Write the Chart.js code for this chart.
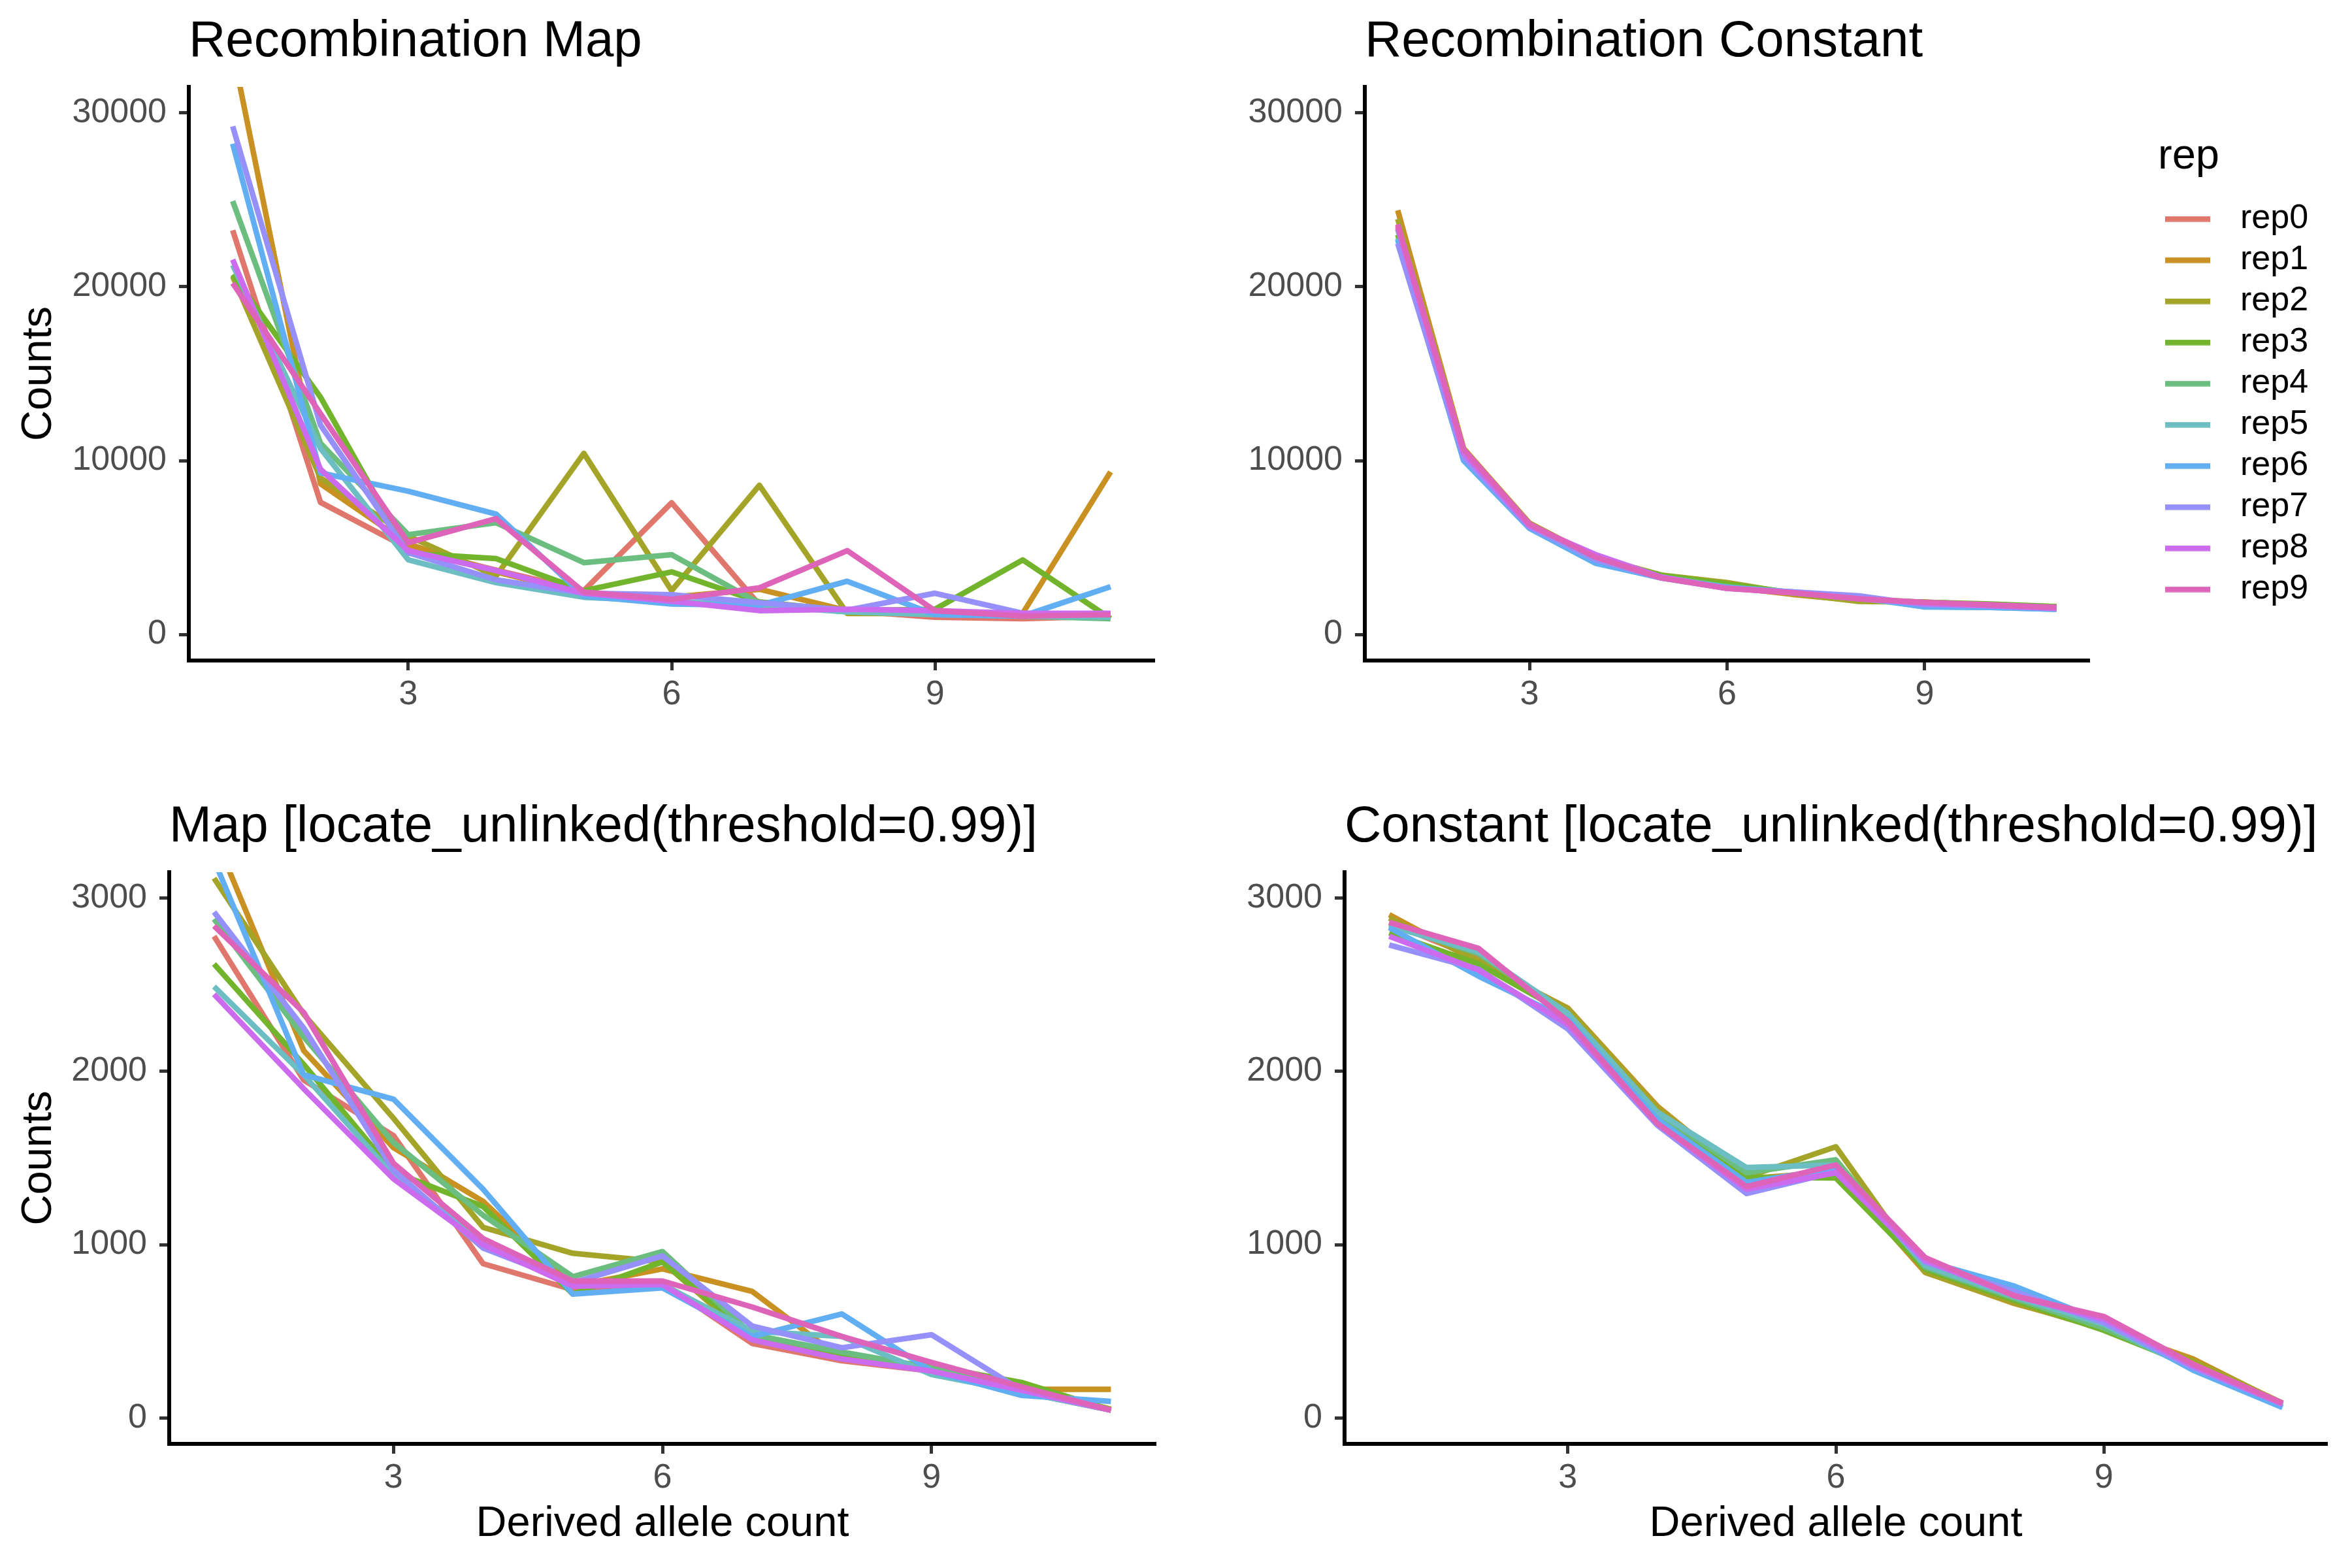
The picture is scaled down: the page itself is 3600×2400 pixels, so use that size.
<!DOCTYPE html>
<html>
<head>
<meta charset="utf-8">
<script src="https://cdn.jsdelivr.net/npm/chart.js@4.4.1/dist/chart.umd.min.js"></script>
<style>
html, body { margin: 0; padding: 0; background: #ffffff; }
#wrap { position: relative; width: 3600px; height: 2400px; background: #ffffff; overflow: hidden; }
#wrap canvas { position: absolute; }
</style>
</head>
<body>
<div id="wrap">
  <canvas id="tl" width="1800" height="1150" style="left:0px;top:0px;width:1800px;height:1150px"></canvas>
  <canvas id="tr" width="1800" height="1150" style="left:1800px;top:0px;width:1800px;height:1150px"></canvas>
  <canvas id="bl" width="1800" height="1250" style="left:0px;top:1150px;width:1800px;height:1250px"></canvas>
  <canvas id="br" width="1800" height="1250" style="left:1800px;top:1150px;width:1800px;height:1250px"></canvas>
</div>
<script>
// ---------------- data ----------------
const derivedCounts = [1, 2, 3, 4, 5, 6, 7, 8, 9, 10, 11];
const repLabels = ['rep0', 'rep1', 'rep2', 'rep3', 'rep4', 'rep5', 'rep6', 'rep7', 'rep8', 'rep9'];
const xTickValues = [3, 6, 9];
const yTicksTop = [0, 10000, 20000, 30000];
const yTicksBottom = [0, 1000, 2000, 3000];

const panelTitles = [
  'Recombination Map',
  'Recombination Constant',
  'Map [locate_unlinked(threshold=0.99)]',
  'Constant [locate_unlinked(threshold=0.99)]'
];
const yAxisTitle = 'Counts';
const xAxisTitle = 'Derived allele count';
const legendTitle = 'rep';

// Recombination Map (rows: rep0..rep9, columns: derived allele count 1..11)
const recombMap = [
  [23250, 7600, 4950, 3700, 2520, 7580, 1700, 1370, 990, 910, 1060],
  [33600, 8670, 5200, 3600, 2370, 2150, 2600, 1370, 1140, 1220, 9350],
  [20600, 9000, 5660, 3360, 10420, 2520, 8580, 1210, 1220, 1060, 1060],
  [20700, 13650, 4670, 4360, 2520, 3600, 1870, 1370, 1450, 4290, 910],
  [24930, 11000, 5740, 6430, 4130, 4590, 1800, 1300, 1220, 1060, 910],
  [21250, 10700, 4290, 2980, 2140, 1900, 1650, 1300, 1140, 1060, 1000],
  [28230, 9290, 8240, 6920, 2210, 1750, 1680, 3060, 1140, 1060, 2750],
  [29230, 12050, 4700, 3140, 2370, 2290, 1830, 1400, 2370, 1220, 1140],
  [21560, 9510, 4820, 3670, 2370, 1910, 1370, 1450, 1370, 1220, 1220],
  [20210, 12700, 5280, 6660, 2440, 2020, 2680, 4820, 1370, 1060, 1140]
];

// Recombination Constant
const recombConst = [
  [23500, 10600, 6350, 4450, 3300, 2700, 2350, 2000, 1850, 1700, 1550],
  [24400, 10700, 6400, 4400, 3350, 2750, 2300, 1950, 1850, 1650, 1500],
  [23900, 10650, 6400, 4450, 3420, 2980, 2350, 1900, 1850, 1700, 1600],
  [23000, 10400, 6300, 4400, 3400, 2900, 2400, 2050, 1850, 1750, 1600],
  [23300, 10300, 6300, 4300, 3300, 2750, 2400, 2050, 1800, 1700, 1550],
  [22800, 10050, 6150, 4150, 3250, 2700, 2400, 2100, 1600, 1550, 1450],
  [22700, 10000, 6100, 4100, 3250, 2700, 2450, 2150, 1580, 1550, 1450],
  [22500, 10200, 6200, 4300, 3250, 2650, 2450, 2220, 1700, 1650, 1550],
  [23400, 10450, 6250, 4600, 3300, 2650, 2400, 2050, 1800, 1650, 1500],
  [23600, 10650, 6350, 4450, 3250, 2650, 2400, 2050, 1850, 1700, 1550]
];

// Map [locate_unlinked(threshold=0.99)]
const mapUnlinked = [
  [2780, 1950, 1630, 890, 740, 780, 430, 330, 270, 150, 45],
  [3370, 2120, 1560, 1250, 760, 860, 730, 340, 280, 165, 165],
  [3115, 2330, 1730, 1100, 950, 900, 450, 340, 280, 180, 50],
  [2620, 2040, 1420, 1220, 715, 900, 480, 350, 300, 205, 45],
  [2880, 2200, 1590, 1170, 815, 960, 480, 380, 290, 175, 45],
  [2490, 1980, 1400, 1015, 780, 770, 500, 470, 250, 150, 45],
  [3220, 1980, 1840, 1320, 715, 750, 470, 600, 270, 130, 95],
  [2920, 2250, 1430, 980, 780, 935, 530, 405, 480, 160, 45],
  [2445, 1900, 1380, 1000, 760, 770, 450, 340, 270, 160, 45],
  [2840, 2340, 1470, 1035, 790, 790, 640, 470, 320, 180, 45]
];

// Constant [locate_unlinked(threshold=0.99)]
const constUnlinked = [
  [2860, 2650, 2320, 1720, 1360, 1440, 850, 670, 530, 300, 85],
  [2905, 2630, 2365, 1800, 1380, 1420, 840, 660, 520, 340, 80],
  [2885, 2640, 2360, 1790, 1390, 1565, 840, 665, 510, 330, 85],
  [2800, 2620, 2330, 1760, 1390, 1385, 860, 680, 505, 300, 85],
  [2850, 2680, 2330, 1760, 1415, 1490, 870, 690, 520, 290, 75],
  [2840, 2690, 2335, 1765, 1445, 1460, 880, 700, 540, 280, 70],
  [2830, 2550, 2300, 1725, 1360, 1440, 905, 760, 555, 275, 60],
  [2730, 2590, 2245, 1690, 1295, 1420, 900, 730, 550, 290, 80],
  [2780, 2585, 2270, 1700, 1320, 1415, 910, 705, 570, 300, 80],
  [2860, 2710, 2290, 1700, 1335, 1460, 925, 705, 585, 310, 85]
];

// ---------------- styles ----------------
const repColors = ['#E0776D', '#C99022', '#A3A428', '#72B42C', '#6CBE80',
                   '#6CBEC3', '#62AEF2', '#9590FA', '#CD6BEE', '#DE64B9'];
const FONT = '"Liberation Sans", Arial, Helvetica, sans-serif';
Chart.defaults.font.family = FONT;
Chart.defaults.color = '#000000';

const LINE_W = 8.5;
const KEY_LINE = 69;     // visible key line length
const KEY_BOX = 89;      // legend box width (line drawn at its left part)
const LEGEND_PAD = 11;
const LEGEND_FONT = 52;

// legend key images: a short line in the left part of a transparent strip
function keyImage(color) {
  const c = document.createElement('canvas');
  c.width = KEY_BOX; c.height = 9;
  const g = c.getContext('2d');
  g.fillStyle = color;
  g.fillRect(0, 0.25, KEY_LINE, LINE_W);
  return c;
}

function buildDatasets(rows) {
  return rows.map((vals, i) => ({
    label: repLabels[i],
    data: vals.map((v, j) => ({ x: derivedCounts[j], y: v })),
    borderColor: repColors[i],
    backgroundColor: repColors[i],
    borderWidth: LINE_W,
    pointRadius: 0,
    pointHoverRadius: 0,
    pointStyle: keyImage(repColors[i]),
    tension: 0,
    fill: false,
    borderJoinStyle: 'round',
    borderCapStyle: 'butt',
    clip: 0,
    order: rows.length - 1 - i
  }));
}

function tickGrid() {
  return { display: true, drawOnChartArea: false, drawTicks: true,
           tickLength: 15, tickWidth: 5, tickColor: '#333333' };
}

// natural legend width (so its left edge can be placed exactly)
function legendWidth() {
  const g = document.createElement('canvas').getContext('2d');
  g.font = LEGEND_FONT + 'px ' + FONT;
  let w = 0;
  repLabels.forEach(t => { w = Math.max(w, g.measureText(t).width); });
  return LEGEND_PAD + KEY_BOX + LEGEND_FONT / 2 + w + 10;
}

function makePanel(id, p) {
  const scales = {
    x: {
      type: 'linear', position: 'bottom',
      min: 0.5, max: 11.5,
      afterBuildTicks: (s) => { s.ticks = xTickValues.map(v => ({ value: v })); },
      afterFit: (s) => { s.height = p.xHeight; },
      ticks: { autoSkip: false, maxRotation: 0, padding: 12, color: '#4D4D4D',
               font: { size: 52, lineHeight: 1 }, callback: (v) => String(v) },
      grid: tickGrid(),
      border: { display: true, color: '#000000', width: 6 },
      title: p.xTitle ? { display: true, text: xAxisTitle, color: '#000000',
               font: { size: 65, lineHeight: 1 }, padding: { top: 0, bottom: 34 } } : { display: false }
    },
    y: {
      type: 'linear', position: 'left',
      min: p.yMin, max: p.yMax,
      afterBuildTicks: (s) => { s.ticks = p.yTicks.map(v => ({ value: v })); },
      afterFit: (s) => { s.width = p.yWidth; },
      ticks: { autoSkip: false, padding: 19, color: '#4D4D4D',
               font: { size: 52, lineHeight: 1 }, callback: (v) => String(v) },
      grid: tickGrid(),
      border: { display: true, color: '#000000', width: 6 },
      title: p.yTitle ? { display: true, text: yAxisTitle, color: '#000000',
               font: { size: 65, lineHeight: 1 }, padding: { top: 28, bottom: 0 } } : { display: false }
    }
  };
  let padRight = p.padRight;
  if (p.legend) {
    scales.gap = {
      position: 'right', display: true,
      grid: { display: false }, border: { display: false }, ticks: { display: false },
      afterFit: (s) => { s.width = p.legendGap; }
    };
    padRight = 1800 - p.legendLeft - legendWidth();
  }
  return new Chart(document.getElementById(id), {
    type: 'line',
    data: { datasets: buildDatasets(p.rows) },
    options: {
      responsive: false,
      animation: false,
      devicePixelRatio: 1,
      events: [],
      layout: { padding: { top: 0, right: padRight, bottom: 0, left: 0 } },
      scales: scales,
      plugins: {
        tooltip: { enabled: false },
        title: {
          display: true, text: p.title, align: 'start', fullSize: false,
          color: '#000000', font: { size: 78, weight: 'normal', lineHeight: 1 },
          padding: { top: p.titlePadTop, bottom: 29.5 }
        },
        legend: p.legend ? {
          display: true, position: 'right', align: 'start',
          title: { display: true, text: legendTitle, position: 'start', color: '#000000',
                   font: { size: 65, lineHeight: 1 }, padding: { top: 208, bottom: 25 } },
          labels: {
            usePointStyle: true, pointStyleWidth: KEY_BOX,
            color: '#000000', font: { size: LEGEND_FONT, lineHeight: 1 }, padding: LEGEND_PAD,
            sort: (a, b) => a.datasetIndex - b.datasetIndex
          }
        } : { display: false }
      }
    }
  });
}

makePanel('tl', { rows: recombMap, title: panelTitles[0], yMin: -1500, yMax: 31500, yTicks: yTicksTop,
  yWidth: 289, padRight: 33, xHeight: 139, titlePadTop: 25.5, yTitle: true, xTitle: false, legend: false });
makePanel('tr', { rows: recombConst, title: panelTitles[1], yMin: -1500, yMax: 31500, yTicks: yTicksTop,
  yWidth: 289, padRight: 0, xHeight: 139, titlePadTop: 25.5, yTitle: false, xTitle: false,
  legend: true, legendGap: 105, legendLeft: 1503 });
makePanel('bl', { rows: mapUnlinked, title: panelTitles[2], yMin: -150, yMax: 3150, yTicks: yTicksBottom,
  yWidth: 259, padRight: 31, xHeight: 190, titlePadTop: 77.5, yTitle: true, xTitle: true, legend: false });
makePanel('br', { rows: constUnlinked, title: panelTitles[3], yMin: -150, yMax: 3150, yTicks: yTicksBottom,
  yWidth: 258, padRight: 38, xHeight: 190, titlePadTop: 77.5, yTitle: false, xTitle: true, legend: false });
</script>
</body>
</html>
